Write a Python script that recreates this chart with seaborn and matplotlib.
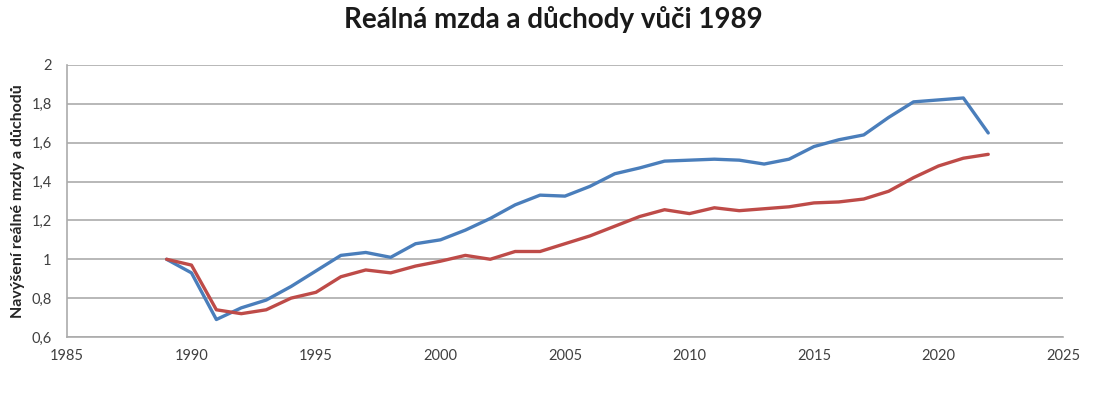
import numpy as np
import pandas as pd
import matplotlib
matplotlib.use("Agg")
import matplotlib.pyplot as plt
import seaborn as sns
from matplotlib.ticker import FuncFormatter, MultipleLocator

# data
years = list(range(1989, 2023))
mzda = [1.00, 0.93, 0.69, 0.75, 0.79, 0.86, 0.94, 1.02, 1.035, 1.01,
        1.08, 1.10, 1.15, 1.21, 1.28, 1.33, 1.325, 1.375, 1.44, 1.47,
        1.505, 1.51, 1.515, 1.51, 1.49, 1.515, 1.58, 1.615, 1.64, 1.73,
        1.81, 1.82, 1.83, 1.65]
duchody = [1.00, 0.97, 0.74, 0.72, 0.74, 0.80, 0.83, 0.91, 0.945, 0.93,
           0.965, 0.99, 1.02, 1.00, 1.04, 1.04, 1.08, 1.12, 1.17, 1.22,
           1.255, 1.235, 1.265, 1.25, 1.26, 1.27, 1.29, 1.295, 1.31, 1.35,
           1.42, 1.48, 1.52, 1.54]

df = pd.DataFrame({"rok": years, "mzda": mzda, "duchody": duchody})

sns.set_style("white")
plt.rcParams["font.family"] = ["Lato", "DejaVu Sans"]

fig = plt.figure(figsize=(11.07, 3.96), dpi=100)
ax = fig.add_axes([0.0605, 0.149, 0.8997, 0.687])

sns.lineplot(data=df, x="rok", y="mzda", ax=ax, color="#4a7ebb", linewidth=2.4)
sns.lineplot(data=df, x="rok", y="duchody", ax=ax, color="#be4b48", linewidth=2.4)

ax.set_xlim(1985, 2025)
ax.set_ylim(0.6, 2.0)
ax.xaxis.set_major_locator(MultipleLocator(5))
ax.yaxis.set_major_locator(MultipleLocator(0.2))
ax.yaxis.set_major_formatter(FuncFormatter(lambda v, p: ("%g" % round(v, 1)).replace(".", ",")))
ax.grid(axis="y", color="#ababab", linewidth=1.2)
ax.set_axisbelow(True)

for s in ["top", "right"]:
    ax.spines[s].set_visible(False)
for s in ["left", "bottom"]:
    ax.spines[s].set_color("#ababab")
    ax.spines[s].set_linewidth(1.2)

ax.tick_params(axis="both", which="major", length=5, width=1, color="#ababab",
               labelsize=10.5, labelcolor="#404040", direction="out")
ax.tick_params(axis="y", pad=6)
ax.tick_params(axis="x", pad=4)

ax.set_xlabel("")
ax.set_ylabel("Navýšení reálné mzdy a důchodů", fontsize=11.5, fontweight="bold",
              color="#262626", labelpad=5)
fig.suptitle("Reálná mzda a důchody vůči 1989", fontsize=20, fontweight="bold",
             color="#1a1a1a", y=0.985)

fig.savefig("out.png", dpi=100)
